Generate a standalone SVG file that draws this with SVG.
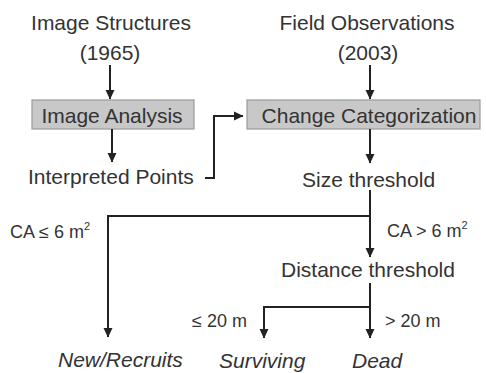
<svg xmlns="http://www.w3.org/2000/svg" width="486" height="373" viewBox="0 0 486 373">
<style>
text{font-family:"Liberation Sans",Arial,sans-serif;fill:#333;}
.t{font-size:21px;}
.s{font-size:18px;}
.sup{font-size:11px;}
.i{font-style:italic;}
.box{fill:#c8c8c8;stroke:#9a9a9a;stroke-width:1.2;}
.c{fill:none;stroke:#222;stroke-width:2;}
</style>
<defs>
<marker id="ah" markerUnits="userSpaceOnUse" markerWidth="10" markerHeight="10" viewBox="0 0 10 10" refX="9" refY="5" orient="auto">
<path d="M0,0.5 L9.5,5 L0,9.5 Z" fill="#222"/>
</marker>
</defs>
<rect width="486" height="373" fill="#fff"/>
<g id="image-structures"><text class="t" x="111" y="30" text-anchor="middle">Image Structures</text><text class="t" x="110" y="60" text-anchor="middle">(1965)</text></g>
<g id="field-observations"><text class="t" x="367" y="30" text-anchor="middle">Field Observations</text><text class="t" x="368" y="60" text-anchor="middle">(2003)</text></g>
<g id="image-analysis"><rect class="box" x="32" y="100" width="162" height="29"/><text class="t" x="112" y="123" text-anchor="middle">Image Analysis</text></g>
<g id="change-categorization"><rect class="box" x="247" y="100" width="233" height="29"/><text class="t" x="369" y="123" text-anchor="middle">Change Categorization</text></g>
<g id="interpreted-points"><text class="t" x="28" y="184">Interpreted Points</text></g>
<g id="size-threshold"><text class="t" x="302" y="187">Size threshold</text></g>
<g id="distance-threshold"><text class="t" x="281" y="277">Distance threshold</text></g>
<g id="new-recruits"><text class="t i" x="58" y="367">New/Recruits</text></g>
<g id="surviving"><text class="t i" x="219" y="368">Surviving</text></g>
<g id="dead"><text class="t i" x="352" y="368">Dead</text></g>
<g id="connectors">
<path class="c" d="M110,65 V99" marker-end="url(#ah)"/>
<path class="c" d="M370,65 V99" marker-end="url(#ah)"/>
<path class="c" d="M112,129 V162" marker-end="url(#ah)"/>
<path class="c" d="M370,129 V163" marker-end="url(#ah)"/>
<path class="c" d="M205,178 H214 V116 H243" marker-end="url(#ah)"/>
<path class="c" d="M370,190 V257" marker-end="url(#ah)"/>
<path class="c" d="M370,216 H108 V337" marker-end="url(#ah)"/>
<path class="c" d="M370,283 V338" marker-end="url(#ah)"/>
<path class="c" d="M370,307 H264 V338" marker-end="url(#ah)"/>
<text class="s" x="10" y="238">CA ≤ 6 m<tspan class="sup" dy="-8">2</tspan></text>
<text class="s" x="387" y="237">CA &gt; 6 m<tspan class="sup" dy="-8">2</tspan></text>
<text class="s" x="192" y="327">≤ 20 m</text>
<text class="s" x="385" y="327">&gt; 20 m</text>
</g>
</svg>
